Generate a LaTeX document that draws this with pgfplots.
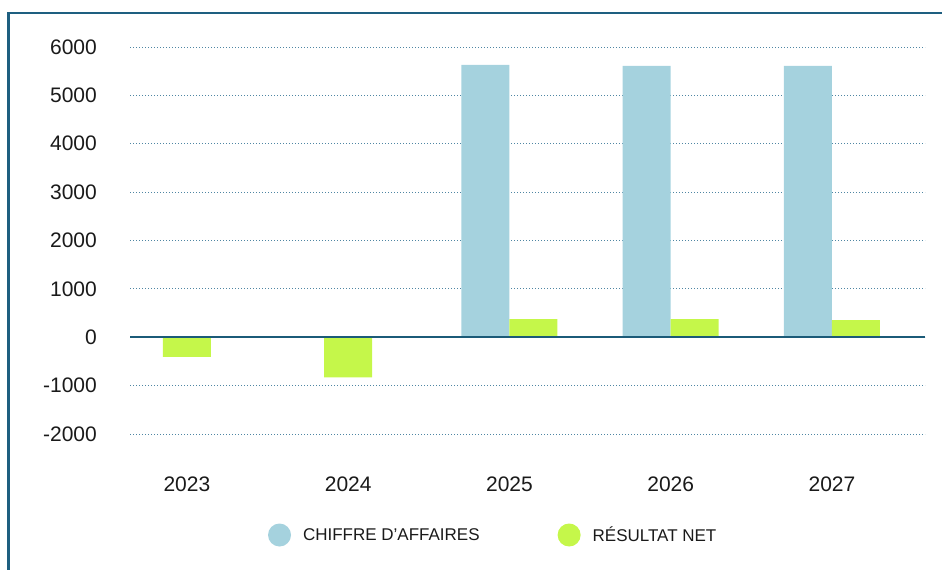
\documentclass[border=0pt]{standalone}
\usepackage{pgfplots}
\pgfplotsset{compat=1.18}
\usepackage{fontspec}
\setmainfont{Liberation Sans}
\definecolor{barblue}{HTML}{A5D2DE}
\definecolor{bargreen}{HTML}{C5F74A}
\definecolor{framec}{HTML}{1E5F80}
\definecolor{gridc}{HTML}{4F86A3}
\definecolor{zeroc}{HTML}{1B5B78}
\definecolor{txt}{HTML}{1A1A1A}
\begin{document}
\begin{tikzpicture}[x=1pt,y=1pt]
\path[use as bounding box] (0,0) rectangle (942,570);
\draw[framec, line width=2.5pt] (8.5,0) -- (8.5,557) -- (942,557);
\begin{axis}[
  at={(130pt,136pt)}, anchor=south west,
  scale only axis, width=795pt, height=387pt,
  xmin=-0.353, xmax=4.577,
  ymin=-2000, ymax=6000,
  ytick={-2000,-1000,0,1000,2000,3000,4000,5000,6000},
  xtick={0,1,2,3,4},
  xticklabels={2023,2024,2025,2026,2027},
  axis line style={draw=none},
  major tick length=0pt,
  ymajorgrids,
  major grid style={gridc, line width=0.9pt, dash pattern=on 0.9pt off 2.1pt},
  ticklabel style={inner sep=0pt, font=\fontsize{21}{24}\selectfont, text=txt},
  yticklabel style={anchor=east, xshift=-33pt},
  xticklabel style={anchor=north, yshift=-43pt},
  /pgf/number format/assume math mode=true,
  yticklabel={\pgfmathprintnumber[fixed,1000 sep={}]{\tick}},
  ybar, bar width=48pt,
  legend style={at={(0.1736,-0.261)}, anchor=west, draw=none, fill=none,
    inner sep=0pt, outer sep=0pt, legend columns=2,
    nodes={inner sep=0pt, font=\fontsize{17}{20}\selectfont, text=txt},
    /tikz/every odd column/.style={column sep=12pt},
    /tikz/every even column/.style={column sep=78pt}},
  legend image code/.code={\fill[#1] (11.5pt,0pt) circle (11.5pt);},
]
\addplot[fill=barblue, draw=none, bar shift=-24pt] coordinates {(2,5631) (3,5610) (4,5610)};
\addlegendentry{CHIFFRE D\symbol{39}AFFAIRES}
\addplot[fill=bargreen, draw=none, bar shift=24pt] coordinates {(2,373) (3,373) (4,352)};
\addlegendentry{RÉSULTAT NET}
\addplot[fill=bargreen, draw=none, bar shift=0pt, forget plot] coordinates {(0,-408) (1,-828)};
\draw[zeroc, line width=1.6pt] (axis cs:-0.353,0) -- (axis cs:4.577,0);
\end{axis}
\end{tikzpicture}
\end{document}
